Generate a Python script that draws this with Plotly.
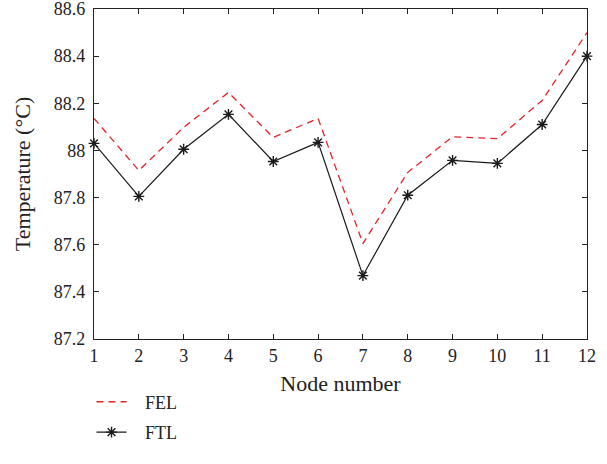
import plotly.graph_objects as go

nodes = list(range(1, 13))
fel = [88.136, 87.915, 88.098, 88.246, 88.055, 88.136, 87.605, 87.907, 88.058, 88.050, 88.212, 88.50]
ftl = [88.03, 87.805, 88.005, 88.153, 87.953, 88.034, 87.469, 87.81, 87.958, 87.945, 88.11, 88.40]
y_ticks = [87.2, 87.4, 87.6, 87.8, 88.0, 88.2, 88.4, 88.6]
y_ticktext = ["87.2", "87.4", "87.6", "87.8", "88", "88.2", "88.4", "88.6"]

font_family = "Liberation Serif"
NB = "\u00a0\u00a0\u00a0"

fig = go.Figure()
fig.add_trace(go.Scatter(
    x=nodes, y=fel, name=NB + "FEL", mode="lines", legendgroup="a",
    line=dict(color="#e3242b", width=1.3, dash="7px,5px"),
))
fig.add_trace(go.Scatter(
    x=nodes, y=ftl, name=NB + "FTL", mode="lines+markers", legendgroup="b",
    line=dict(color="#1a1a1a", width=1.2),
    marker=dict(symbol="asterisk-open", size=9, color="#1a1a1a", line=dict(width=1.4, color="#1a1a1a")),
    cliponaxis=False,
))

fig.update_layout(
    width=607, height=464,
    margin=dict(l=94, r=20, t=9, b=125, autoexpand=False),
    plot_bgcolor="white", paper_bgcolor="white",
    font=dict(family=font_family, size=18, color="#222222"),
    showlegend=True,
    legend=dict(x=-0.005, y=-0.135, xanchor="left", yanchor="top",
                orientation="v", bgcolor="rgba(0,0,0,0)",
                font=dict(size=18), tracegroupgap=4, itemwidth=30),
)
fig.update_xaxes(
    range=[0.9999, 12.0001], tickmode="array", tickvals=nodes, ticktext=[str(n) for n in nodes],
    ticks="inside", ticklen=5, tickcolor="#222", showline=True, linecolor="#222", linewidth=1.2,
    mirror="ticks", showgrid=False, zeroline=False, ticklabeloverflow="allow", automargin=False,
    title=dict(text="Node number", standoff=10),
)
fig.update_yaxes(
    range=[87.1999, 88.6001], tickmode="array",
    tickvals=y_ticks, ticktext=y_ticktext,
    ticks="inside", ticklen=5, tickcolor="#222", showline=True, linecolor="#222", linewidth=1.2,
    mirror="ticks", showgrid=False, zeroline=False, ticklabelstandoff=4, ticklabeloverflow="allow",
    automargin=False,
    title=dict(text="Temperature (°C)", standoff=17),
)

fig.write_html(
    "out.html",
    config={"displayModeBar": False},
    post_script="document.body.style.margin='0px';document.body.style.overflow='hidden';document.documentElement.style.overflow='hidden';",
)
